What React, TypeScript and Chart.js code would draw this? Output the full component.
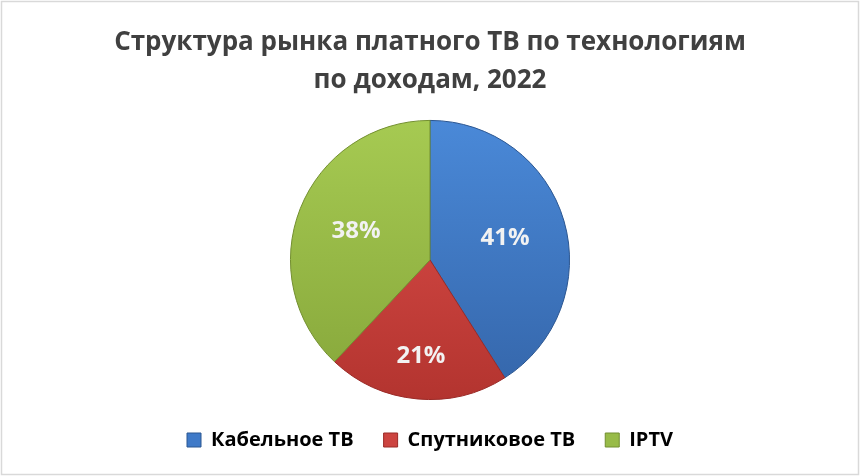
import React, { useEffect, useRef } from "react";
import { Chart, registerables } from "chart.js";

Chart.register(...registerables);

const categories = ["Кабельное ТВ", "Спутниковое ТВ", "IPTV"];
const shares = [41, 21, 38];
const titleLines = ["Структура рынка платного ТВ по технологиям", "по доходам, 2022"];

const topColors = ["#4A89D8", "#E0504C", "#A6CA52"];
const bottomColors = ["#3465A9", "#B3342F", "#86A63A"];
const edgeColors = ["#2B5691", "#9A2A27", "#738F30"];
const flatColors = ["#3F7AC8", "#CC4440", "#98BB48"];
const labelRadius = [0.56, 0.69, 0.57];

const FONT = "'Open Sans', Lato, sans-serif";

export default function App() {
  const ref = useRef<HTMLCanvasElement | null>(null);

  useEffect(() => {
    document.body.style.margin = "0";
    const canvas = ref.current!;

    const frame = {
      id: "frame",
      afterDraw(chart: any) {
        const c = chart.ctx;
        c.save();
        c.strokeStyle = "#D9D9D9";
        c.lineWidth = 1.5;
        c.strokeRect(1.5, 1.5, chart.width - 3, chart.height - 3);
        c.restore();
      },
    };

    const labels = {
      id: "sliceLabels",
      afterDatasetsDraw(chart: any) {
        const c = chart.ctx;
        const meta = chart.getDatasetMeta(0);
        c.save();
        c.fillStyle = "#F2F2F2";
        c.font = `bold 24px ${FONT}`;
        c.textAlign = "center";
        c.textBaseline = "middle";
        meta.data.forEach((arc: any, i: number) => {
          const { x, y, startAngle, endAngle, outerRadius } = arc.getProps(
            ["x", "y", "startAngle", "endAngle", "outerRadius"],
            true
          );
          const mid = (startAngle + endAngle) / 2;
          const r = outerRadius * labelRadius[i];
          c.fillText(shares[i] + "%", x + Math.cos(mid) * r, y + Math.sin(mid) * r);
        });
        c.restore();
      },
    };

    const chart = new Chart(canvas, {
      type: "pie",
      data: {
        labels: categories,
        datasets: [
          {
            data: shares,
            backgroundColor: (ctx: any) => {
              const area = ctx.chart.chartArea;
              if (!area) return flatColors[ctx.dataIndex];
              const g = ctx.chart.ctx.createLinearGradient(0, area.top, 0, area.bottom);
              g.addColorStop(0, topColors[ctx.dataIndex]);
              g.addColorStop(1, bottomColors[ctx.dataIndex]);
              return g;
            },
            borderColor: edgeColors,
            borderWidth: 1,
          },
        ],
      },
      options: {
        responsive: false,
        animation: false,
        layout: { padding: { top: 0, bottom: 16, left: 0, right: 0 } },
        plugins: {
          title: {
            display: true,
            text: titleLines,
            color: "#404040",
            font: { family: FONT, size: 26, weight: "bold", lineHeight: 1.46 },
            padding: { top: 24, bottom: 20 },
          },
          legend: {
            position: "bottom",
            labels: {
              color: "#404040",
              font: { family: FONT, size: 20, weight: "bold" },
              boxWidth: 14,
              boxHeight: 14,
              padding: 30,
              generateLabels: () =>
                categories.map((t, i) => ({
                  text: t,
                  fillStyle: flatColors[i],
                  strokeStyle: edgeColors[i],
                  lineWidth: 1,
                  index: i,
                  datasetIndex: 0,
                  hidden: false,
                })),
            },
          },
          tooltip: { enabled: false },
        },
      },
      plugins: [labels, frame],
    } as any);

    return () => chart.destroy();
  }, []);

  return (
    <div style={{ width: 860, height: 476, background: "#fff" }}>
      <canvas ref={ref} width={860} height={476} />
    </div>
  );
}
